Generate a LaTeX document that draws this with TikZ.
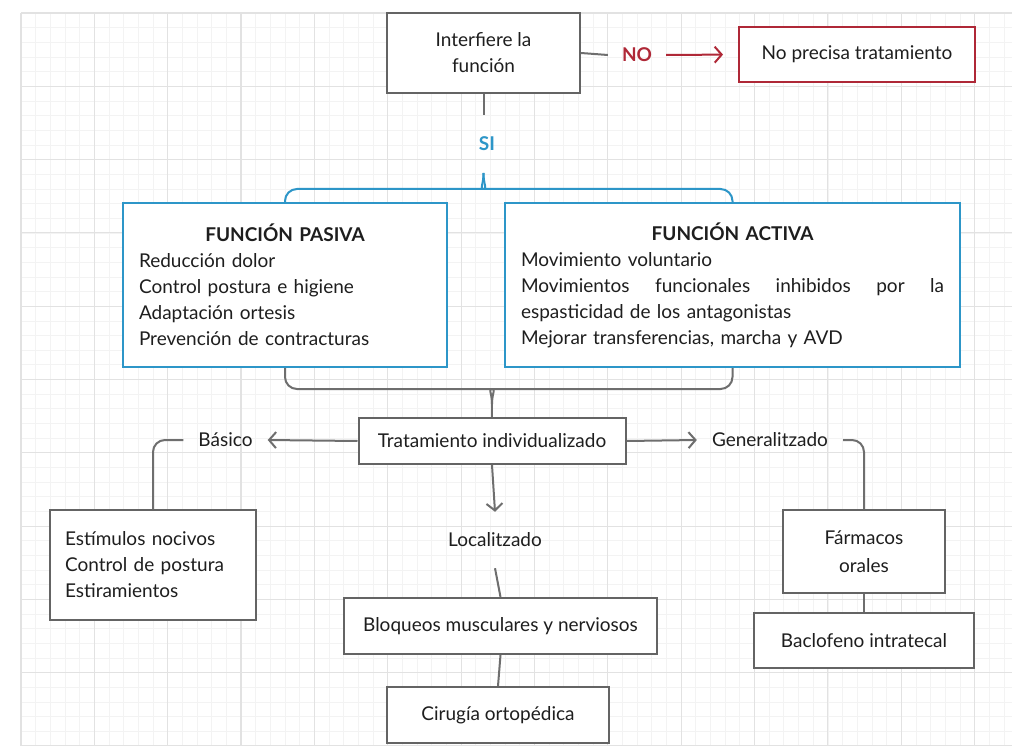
\documentclass[tikz,border=0pt]{standalone}
\usepackage{fontspec}
\setmainfont{Lato}
\usetikzlibrary{arrows.meta,calc}
\definecolor{ink}{RGB}{30,30,30}
\definecolor{edge}{RGB}{100,100,100}
\definecolor{wire}{RGB}{110,110,110}
\definecolor{cyanedge}{RGB}{45,150,200}
\definecolor{rededge}{RGB}{175,40,55}
\definecolor{gridmaj}{RGB}{226,226,226}
\definecolor{gridmin}{RGB}{243,243,243}

\begin{document}
\begin{tikzpicture}[x=1pt,y=-1pt,
  every node/.style={font=\fontsize{19}{26}\selectfont, text=ink},
  graybox/.style={draw=edge, line width=2pt, fill=white, inner sep=0pt, align=center},
  redbox/.style={draw=rededge, line width=2pt, fill=white, inner sep=0pt, align=center},
  bluebox/.style={draw=cyanedge, line width=2pt, fill=white, inner xsep=16pt, inner ysep=0pt,
                  align=left, minimum height=164pt},
  lbl/.style={inner xsep=15pt, inner ysep=2pt},
  conn/.style={draw=wire, line width=2pt},
  arrowc/.style={conn, -{Straight Barb[length=7pt,width=16pt,line width=2pt]}},
  redarrow/.style={draw=rededge, line width=2pt, -{Straight Barb[length=7pt,width=16pt,line width=2pt]}},
  bluebrace/.style={draw=cyanedge, line width=2pt, rounded corners=12pt},
  graybrace/.style={conn, rounded corners=12pt},
]
% page and background grid
\fill[white] (0,0) rectangle (1012,746);
\useasboundingbox (0,0) rectangle (1012,746);
\foreach \i in {0,...,67} \draw[gridmin, line width=0.7pt] ({21+14.67*\i},13) -- ({21+14.67*\i},746);
\foreach \j in {0,...,50} \draw[gridmin, line width=0.7pt] (21,{13+14.66*\j}) -- (1012,{13+14.66*\j});
\foreach \i in {0,...,13} \draw[gridmaj, line width=1.2pt] ({21+73.35*\i},13) -- ({21+73.35*\i},746);
\foreach \j in {0,...,10} \draw[gridmaj, line width=1.2pt] (21,{13+73.3*\j}) -- (1012,{13+73.3*\j});

% decision at the top
\node[graybox, minimum width=193pt, minimum height=80pt] (q) at (483.5,53) {Interfiere la\\función};
\node[redbox, minimum width=236pt, minimum height=55pt] (nope) at (857,54.5) {No precisa tratamiento};
\node[lbl, inner xsep=14pt, text=rededge, font=\fontsize{19}{26}\selectfont\bfseries] (no) at (637,55) {NO};
\node[text=cyanedge, font=\fontsize{19}{26}\selectfont\bfseries, inner sep=0pt] (si) at (487,144) {SI};

\draw[conn] (q.east) -- (no.west);
\draw[redarrow, shorten >=15pt] (no.east) -- (nope.west);
\draw[conn] (q.south) -- ($(q.south)+(0,21)$);

% the two kinds of function
\node[bluebox, text width=292pt] (pasiva) at (285,285)
  {\makebox[292pt][c]{\bfseries FUNCIÓN PASIVA}\\
   Reducción dolor\\
   Control postura e higiene\\
   Adaptación ortesis\\
   Prevención de contracturas};
\node[bluebox, text width=423pt] (activa) at (732.5,285)
  {\makebox[423pt][c]{\bfseries FUNCIÓN ACTIVA}\\
   Movimiento voluntario\\
   \makebox[423pt][s]{Movimientos\hfill funcionales\hfill inhibidos\hfill por\hfill la}\\
   espasticidad de los antagonistas\\
   Mejorar transferencias, marcha y AVD};

% upper brace
\coordinate (peak) at ($(q.south)+(0,79)$);
\draw[bluebrace] (pasiva.north) |- ($(peak)+(-12,16)$)
  .. controls ($(peak)+(-4,16)$) and ($(peak)+(0,12)$) .. (peak);
\draw[bluebrace] (activa.north) |- ($(peak)+(12,16)$)
  .. controls ($(peak)+(4,16)$) and ($(peak)+(0,12)$) .. (peak);

% treatment
\node[graybox, minimum width=267pt, minimum height=46pt] (trat) at (492,441) {Tratamiento individualizado};

% lower brace
\coordinate (bpk) at ($(trat.north)+(0,-13)$);
\draw[graybrace] (pasiva.south) |- ($(bpk)+(-12,-15)$)
  .. controls ($(bpk)+(-4,-15)$) and ($(bpk)+(0,-11)$) .. (bpk);
\draw[graybrace] (activa.south) |- ($(bpk)+(12,-15)$)
  .. controls ($(bpk)+(4,-15)$) and ($(bpk)+(0,-11)$) .. (bpk);
\draw[conn] (bpk) -- (trat.north);

% basic branch
\node[lbl] (basico) at (225.5,440) {Básico};
\node[graybox, inner xsep=15pt, text width=176pt, align=left, minimum height=110pt] (est) at (153,565)
  {Estímulos nocivos\\Control de postura\\Estiramientos};
\draw[arrowc] (trat.west) -- (basico.east);
\draw[graybrace] (basico.west) -| (est.north);

% generalised branch
\node[lbl] (gen) at (770,440) {Generalitzado};
\node[graybox, minimum width=162pt, minimum height=83pt, font=\fontsize{19}{28}\selectfont] (farm) at (864,551.5) {Fármacos\\orales};
\node[graybox, minimum width=220pt, minimum height=55pt] (bacl) at (864,640.5) {Baclofeno intratecal};
\draw[arrowc] (trat.east) -- (gen.west);
\draw[graybrace] (gen.east) -| (farm.north);
\draw[conn] (farm.south) -- (bacl.north);

% localised branch
\node[inner sep=0pt, minimum height=56pt] (loc) at (495,540) {Localitzado};
\node[graybox, minimum width=313pt, minimum height=56pt] (bloq) at (500.5,626) {Bloqueos musculares y nerviosos};
\node[graybox, minimum width=222pt, minimum height=56pt] (ciru) at (498,715) {Cirugía ortopédica};
\draw[arrowc] (trat.south) -- (loc.north);
\draw[conn] (loc.south) -- (bloq.north);
\draw[conn] (bloq.south) -- (ciru.north);
\end{tikzpicture}
\end{document}
